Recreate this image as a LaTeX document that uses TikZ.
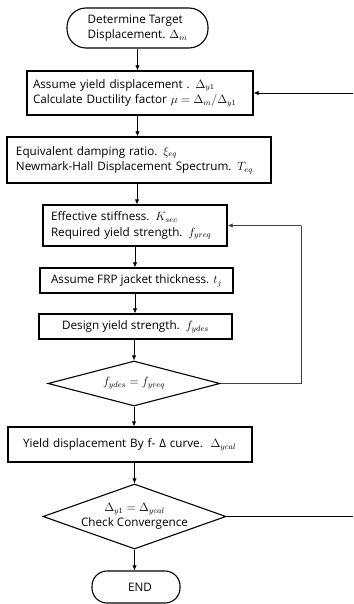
\documentclass[tikz,border=0pt]{standalone}
\usepackage{fontspec}
\setmainfont{Open Sans}
\usetikzlibrary{shapes.geometric,arrows.meta}

\begin{document}
\begin{tikzpicture}[x=1pt,y=-1pt,
  font=\fontsize{11.7}{15.5}\selectfont,
  procbox/.style={draw, line width=1.3pt, inner ysep=0pt, align=left},
  termbox/.style={draw, line width=1.1pt, inner sep=0pt, align=left},
  decision/.style={draw, diamond, line width=1.1pt, inner sep=0pt, align=center},
  arr/.style={line width=0.8pt, -{Latex[length=5pt,width=4.5pt]}},
  fb/.style={line width=0.8pt, draw=black!75}]
\useasboundingbox (0,0) rectangle (353,604);

% terminals, process boxes and decisions
\node[termbox, minimum width=141pt, minimum height=40pt, rounded corners=19pt]
  (start) at (137.5,28) {Determine Target\\Displacement. $\Delta_m$};
\node[procbox, minimum height=44pt, inner xsep=6pt, text width=214pt]
  (b2) at (140,93) {Assume yield displacement . $\Delta_{y1}$\\Calculate Ductility factor $\mu = \Delta_m/\Delta_{y1}$};
\node[procbox, minimum height=46pt, inner xsep=9pt, text width=246pt]
  (b3) at (139,160) {Equivalent damping ratio. $\xi_{eq}$\\Newmark-Hall Displacement Spectrum. $T_{eq}$};
\node[procbox, minimum height=41pt, inner xsep=8pt, text width=168pt]
  (b4) at (135,225.5) {Effective stiffness. $K_{sec}$\\Required yield strength. $f_{yreq}$};
\node[procbox, minimum height=25pt, minimum width=193pt, inner xsep=0pt]
  (b5) at (136.5,280.5) {Assume FRP jacket thickness. $t_j$};
\node[procbox, minimum height=25pt, minimum width=193pt, inner xsep=0pt]
  (b6) at (135.5,326.5) {Design yield strength.\ \ $f_{ydes}$};
\node[decision, aspect=3.8, minimum width=172pt, minimum height=45pt]
  (d1) at (134,383.5) {$f_{ydes} = f_{yreq}$};
\node[procbox, minimum height=35pt, inner xsep=15pt, text width=214pt]
  (b7) at (130,444.5) {Yield displacement By f- Δ curve.\ \ $\Delta_{ycal}$};
\node[decision, aspect=2.8, minimum width=183pt, minimum height=65pt]
  (d2) at (134.5,516.5) {$\Delta_{y1} = \Delta_{ycal}$\\Check Convergence};
\node[termbox, minimum width=88pt, minimum height=32pt, rounded corners=15pt, align=center]
  (end) at (136,587) {\hspace*{8pt}END};

% main flow
\draw[arr] (start.south) -- (start.south |- b2.north);
\draw[arr] (b2.south -| start.south) -- (b3.north -| start.south);
\draw[arr] (b3.south -| 137,0) -- (b4.north -| 137,0);
\draw[arr] (b4.south) -- (b4.south |- b5.north);
\draw[arr] (b5.south -| b4.south) -- (b6.north -| b4.south);
\draw[arr] (b6.south -| d1.north) -- (d1.north);
\draw[arr] (d1.south) -- (d1.south |- b7.north);
\draw[arr] (b7.south -| d2.north) -- (d2.north);
\draw[arr] (d2.south) -- (d2.south |- end.north);

% iteration loops
\coordinate (fbx) at (301,0);
\coordinate (rx) at (353,0);
\draw[fb] (d1.east) -- (d1.east -| fbx) -- (fbx |- b4.east);
\draw[fb, arr, draw=black!75] (fbx |- b4.east) -- (b4.east);
\draw[line width=0.9pt] (d2.east) -- (d2.east -| rx);
\draw[arr] (b2.east -| rx) -- (b2.east);
\end{tikzpicture}
\end{document}
